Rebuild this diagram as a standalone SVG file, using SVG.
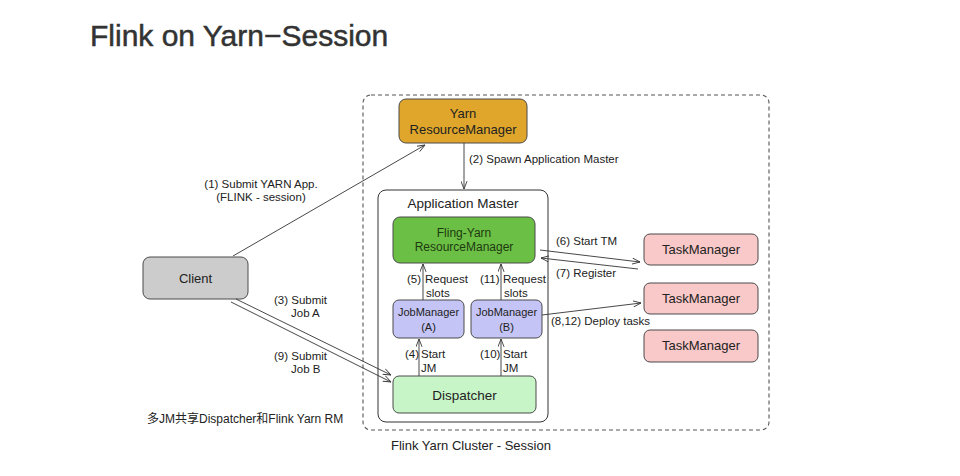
<svg xmlns="http://www.w3.org/2000/svg" width="960" height="476" viewBox="0 0 960 476">
<style>
text{font-family:"Liberation Sans",Arial,sans-serif;fill:#222}
.node{stroke:#4a4a4a;stroke-width:1}
.lbl{font-size:11.5px}
.c{text-anchor:middle}
.ln{stroke:#333;stroke-width:0.9;fill:none}
</style>
<defs>
<marker id="ah" viewBox="0 0 10 8" refX="9" refY="4" markerWidth="9" markerHeight="7" orient="auto" markerUnits="userSpaceOnUse">
<path d="M0,0.5 L9,4 L0,7.5" fill="none" stroke="#333" stroke-width="1"/>
</marker>
</defs>
<rect width="960" height="476" fill="#fff"/>
<text x="90" y="46" font-size="30" style="fill:#333;stroke:#333;stroke-width:0.5">Flink on Yarn−Session</text>

<g id="cluster">
<rect x="363" y="95" width="406" height="335" rx="8" fill="none" stroke="#555" stroke-width="1.1" stroke-dasharray="4 3"/>
<text x="391" y="450" font-size="13">Flink Yarn Cluster - Session</text>
</g>

<g id="yarn-rm">
<rect class="node" x="399" y="99" width="128" height="44" rx="7" fill="#DFA62B"/>
<text class="c" x="463" y="118" font-size="13">Yarn</text>
<text class="c" x="463" y="134" font-size="13">ResourceManager</text>
</g>

<g id="app-master">
<rect x="378" y="190" width="170" height="232" rx="8" fill="#fff" stroke="#333" stroke-width="1"/>
<text class="c" x="463" y="208" font-size="13.5">Application Master</text>
</g>

<g id="flink-rm">
<rect class="node" x="393" y="217" width="142" height="46" rx="7" fill="#6CBF45"/>
<text class="c" x="464" y="237" font-size="12" style="fill:#1d3a10">Fling-Yarn</text>
<text class="c" x="464" y="251" font-size="12" style="fill:#1d3a10">ResourceManager</text>
</g>

<g id="jm-a">
<rect class="node" x="393" y="300" width="71" height="38" rx="6" fill="#C4C4F6"/>
<text class="c" x="428.5" y="316" font-size="11">JobManager</text>
<text class="c" x="428.5" y="331" font-size="11">(A)</text>
</g>

<g id="jm-b">
<rect class="node" x="471" y="300" width="71" height="38" rx="6" fill="#C4C4F6"/>
<text class="c" x="506.5" y="316" font-size="11">JobManager</text>
<text class="c" x="506.5" y="331" font-size="11">(B)</text>
</g>

<g id="dispatcher">
<rect class="node" x="393" y="376" width="143" height="37" rx="6" fill="#C8F5C8"/>
<text class="c" x="464.5" y="400" font-size="13.5">Dispatcher</text>
</g>

<g id="client">
<rect class="node" x="143" y="257" width="105" height="42" rx="7" fill="#CCCCCC"/>
<text class="c" x="195.5" y="283" font-size="13">Client</text>
</g>

<g id="tm1">
<rect class="node" x="644" y="234" width="114" height="31" rx="6" fill="#F9C8C8"/>
<text class="c" x="701" y="254" font-size="13">TaskManager</text>
</g>
<g id="tm2">
<rect class="node" x="644" y="283" width="114" height="31" rx="6" fill="#F9C8C8"/>
<text class="c" x="701" y="303" font-size="13">TaskManager</text>
</g>
<g id="tm3">
<rect class="node" x="644" y="330" width="114" height="32" rx="6" fill="#F9C8C8"/>
<text class="c" x="701" y="350" font-size="13">TaskManager</text>
</g>

<g id="connectors">
<line class="ln" x1="233" y1="256" x2="425" y2="145" marker-end="url(#ah)"/>
<line class="ln" x1="464" y1="143" x2="464" y2="189" marker-end="url(#ah)"/>
<line class="ln" x1="236" y1="299" x2="391" y2="375" marker-end="url(#ah)"/>
<line class="ln" x1="231" y1="302" x2="391" y2="382" marker-end="url(#ah)"/>
<line class="ln" x1="423" y1="300" x2="423" y2="264" marker-end="url(#ah)"/>
<line class="ln" x1="501" y1="300" x2="501" y2="264" marker-end="url(#ah)"/>
<line class="ln" x1="419" y1="376" x2="419" y2="339" marker-end="url(#ah)"/>
<line class="ln" x1="501" y1="376" x2="501" y2="339" marker-end="url(#ah)"/>
<line class="ln" x1="540" y1="250" x2="640" y2="262" marker-end="url(#ah)"/>
<line class="ln" x1="638" y1="269" x2="541" y2="258" marker-end="url(#ah)"/>
<line class="ln" x1="542" y1="315" x2="641" y2="303" marker-end="url(#ah)"/>
</g>

<g id="labels">
<text class="lbl c" x="261" y="188">(1) Submit YARN App.</text>
<text class="lbl c" x="261" y="201">(FLINK - session)</text>
<text class="lbl" x="469" y="163" font-size="12">(2) Spawn Application Master</text>
<text class="lbl" x="274" y="304">(3) Submit</text>
<text class="lbl" x="291" y="317">Job A</text>
<text class="lbl" x="274" y="360">(9) Submit</text>
<text class="lbl" x="291" y="373">Job B</text>
<text class="lbl" x="407" y="283">(5)</text>
<text class="lbl" x="425" y="283">Request</text>
<text class="lbl" x="426" y="297">slots</text>
<text class="lbl" x="480" y="283">(11)</text>
<text class="lbl" x="503" y="283">Request</text>
<text class="lbl" x="504" y="297">slots</text>
<text class="lbl" x="405" y="358">(4)</text>
<text class="lbl" x="421" y="358">Start</text>
<text class="lbl" x="421" y="372">JM</text>
<text class="lbl" x="480" y="358">(10)</text>
<text class="lbl" x="503" y="358">Start</text>
<text class="lbl" x="503" y="372">JM</text>
<text class="lbl" x="556" y="245">(6) Start TM</text>
<text class="lbl" x="556" y="277">(7) Register</text>
<text class="lbl" x="551" y="325">(8,12) Deploy tasks</text>
<text x="147" y="423" font-size="12" style="font-family:'Liberation Sans','Noto Sans CJK SC',sans-serif">多JM共享Dispatcher和Flink Yarn RM</text>
</g>
</svg>
